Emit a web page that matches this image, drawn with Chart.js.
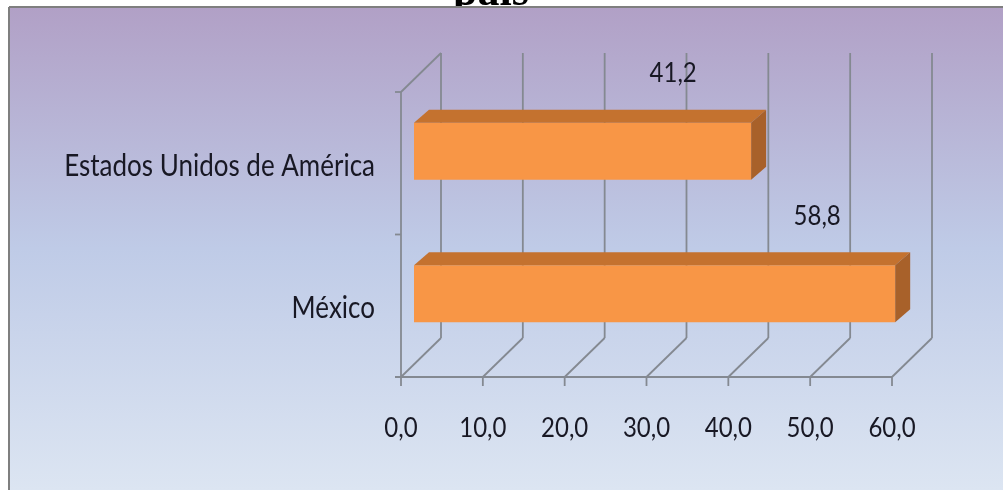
<!DOCTYPE html>
<html>
<head>
<meta charset="utf-8">
<script src="https://cdn.jsdelivr.net/npm/chart.js@4.4.1/dist/chart.umd.min.js"></script>
<style>
    html, body { margin: 0; padding: 0; background: #fff; }
    #wrap { width: 1003px; height: 490px; }
</style>
</head>
<body>
<div id="wrap"><canvas id="chart" width="1003" height="490"></canvas></div>
<script>
// Chart data
const categories = ['Estados Unidos de América', 'México'];
const values = [41.2, 58.8];
const tickValues = [0, 10, 20, 30, 40, 50, 60];
const titleText = 'país';

// 3D look
const wallDepth = { x: 40, y: -39 };
const barShift = { x: 13, y: -12 };
const barDepth = { x: 15, y: -13 };
const gridColor = '#848991';
const textColor = '#181824';
const fontFamily = 'Lato, "Open Sans", sans-serif';
const textStretch = 1.15;

const fmt = (v) => v.toFixed(1).replace('.', ',');

function line(ctx, x1, y1, x2, y2) {
    ctx.beginPath();
    ctx.moveTo(x1, y1);
    ctx.lineTo(x2, y2);
    ctx.stroke();
}

// the source font is a bit taller than Lato, so stretch it vertically
function tallText(ctx, text, x, y) {
    ctx.save();
    ctx.translate(x, y);
    ctx.scale(1, textStretch);
    ctx.fillText(text, 0, 0);
    ctx.restore();
}

const backgroundPlugin = {
    id: 'frameBg',
    beforeDraw(chart) {
        const ctx = chart.ctx;
        ctx.save();
        ctx.fillStyle = '#ffffff';
        ctx.fillRect(0, 0, chart.width, chart.height);

        // title, mostly hidden above the frame
        ctx.fillStyle = '#000000';
        ctx.font = 'bold 44px "Liberation Serif", serif';
        ctx.textAlign = 'center';
        ctx.textBaseline = 'alphabetic';
        ctx.fillText(titleText, 491, 5);

        const grad = ctx.createLinearGradient(0, 7, 0, chart.height);
        grad.addColorStop(0, '#b1a0c6');
        grad.addColorStop(0.5, '#bfcbe7');
        grad.addColorStop(1, '#dce5f2');
        ctx.fillStyle = grad;
        ctx.fillRect(9, 7, chart.width, chart.height);

        ctx.strokeStyle = '#7f7f7f';
        ctx.lineWidth = 2;
        line(ctx, 9, 7, chart.width, 7);
        line(ctx, 9, 7, 9, chart.height);
        ctx.restore();
    },
    afterDraw(chart) {
        const ctx = chart.ctx;
        const { left, bottom } = chart.chartArea;
        const xs = chart.scales.x;
        const ys = chart.scales.y;

        ctx.save();
        ctx.fillStyle = textColor;
        ctx.textBaseline = 'middle';

        ctx.font = '26px ' + fontFamily;
        ctx.textAlign = 'right';
        categories.forEach((c, i) => {
            tallText(ctx, c, left - 26, ys.getPixelForValue(i) + 3);
        });

        ctx.font = '24px ' + fontFamily;
        ctx.textAlign = 'center';
        tickValues.forEach((v) => {
            tallText(ctx, fmt(v), xs.getPixelForValue(v), bottom + 51);
        });
        ctx.restore();
    }
};

const wallPlugin = {
    id: 'walls3d',
    beforeDatasetsDraw(chart) {
        const ctx = chart.ctx;
        const { left, right, top, bottom } = chart.chartArea;
        const xs = chart.scales.x;
        const ys = chart.scales.y;

        ctx.save();
        ctx.strokeStyle = gridColor;
        ctx.lineWidth = 1.8;

        // left wall
        line(ctx, left, top, left, bottom);
        line(ctx, left, top, left + wallDepth.x, top + wallDepth.y);
        for (let i = 0; i <= categories.length; i++) {
            const y = ys.getPixelForValue(i - 0.5);
            line(ctx, left - 6, y, left, y);
        }

        // floor and back wall
        line(ctx, left - 6, bottom, right, bottom);
        tickValues.forEach((v) => {
            const x = xs.getPixelForValue(v);
            line(ctx, x, bottom, x + wallDepth.x, bottom + wallDepth.y);
            line(ctx, x + wallDepth.x, bottom + wallDepth.y, x + wallDepth.x, top + wallDepth.y);
            line(ctx, x, bottom, x, bottom + 9);
        });
        ctx.restore();

        // bars sit a bit inside the box
        ctx.save();
        ctx.translate(barShift.x, barShift.y);
    },
    afterDatasetsDraw(chart) {
        const ctx = chart.ctx;
        const meta = chart.getDatasetMeta(0);

        meta.data.forEach((bar) => {
            const p = bar.getProps(['x', 'y', 'base', 'height'], true);
            const t = p.y - p.height / 2;
            const b = p.y + p.height / 2;

            ctx.fillStyle = '#c4722f';
            ctx.beginPath();
            ctx.moveTo(p.base, t);
            ctx.lineTo(p.x, t);
            ctx.lineTo(p.x + barDepth.x, t + barDepth.y);
            ctx.lineTo(p.base + barDepth.x, t + barDepth.y);
            ctx.closePath();
            ctx.fill();

            ctx.fillStyle = '#a8612a';
            ctx.beginPath();
            ctx.moveTo(p.x, t);
            ctx.lineTo(p.x + barDepth.x, t + barDepth.y);
            ctx.lineTo(p.x + barDepth.x, b + barDepth.y);
            ctx.lineTo(p.x, b);
            ctx.closePath();
            ctx.fill();
        });
        ctx.restore();

        // value labels
        ctx.save();
        ctx.fillStyle = textColor;
        ctx.font = '24px ' + fontFamily;
        ctx.textAlign = 'center';
        ctx.textBaseline = 'middle';
        meta.data.forEach((bar, i) => {
            tallText(ctx, fmt(values[i]), bar.x - 65, bar.y - 90);
        });
        ctx.restore();
    }
};

new Chart(document.getElementById('chart'), {
    type: 'bar',
    data: {
        labels: categories,
        datasets: [
            {
                data: values,
                backgroundColor: '#f89646',
                borderWidth: 0,
                barPercentage: 0.4,
                categoryPercentage: 1.0,
                clip: false
            }
        ]
    },
    options: {
        indexAxis: 'y',
        responsive: false,
        animation: false,
        devicePixelRatio: 1,
        layout: {
            padding: { top: 92, right: 111, bottom: 0, left: 0 }
        },
        plugins: {
            legend: { display: false },
            tooltip: { enabled: false }
        },
        scales: {
            x: {
                min: 0,
                max: 60,
                afterFit: (scale) => { scale.height = 113; },
                afterBuildTicks: (scale) => {
                    scale.ticks = tickValues.map((v) => ({ value: v }));
                },
                grid: { display: false, drawTicks: false },
                border: { display: false },
                ticks: { display: false }
            },
            y: {
                afterFit: (scale) => { scale.width = 401; },
                grid: { display: false, drawTicks: false },
                border: { display: false },
                ticks: { display: false }
            }
        }
    },
    plugins: [backgroundPlugin, wallPlugin]
});
</script>
</body>
</html>
